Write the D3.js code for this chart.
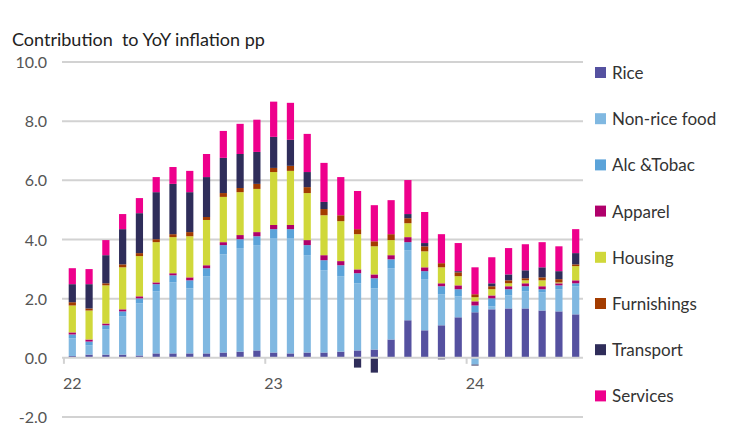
<!DOCTYPE html>
<html><head><meta charset="utf-8">
<script src="https://cdn.jsdelivr.net/npm/d3@7"></script>
<style>body{margin:0;background:#fff}text{font-family:Lato,"Noto Sans",sans-serif}</style>
</head><body><svg id="c" width="750" height="435"></svg>
<script>
const months = d3.range(31).map(i => { const y = 22 + Math.floor(i/12); return y + "-" + String(i%12+1).padStart(2,"0"); });
const seriesNames = ["Rice","Non-rice food","Alc &Tobac","Apparel","Housing","Furnishings","Transport","Services"];
const colors = ["#5551a0","#80b8e1","#5ba3d9","#b0006b","#d0d83a","#a33c00","#2f2d5a","#ee008c"];
const rice =        [.06,.11,.11,.11,.08,.15,.15,.15,.15,.18,.21,.25,.18,.15,.18,.18,.21,.25,.28,.62,1.27,.93,1.10,1.37,1.54,1.64,1.67,1.67,1.60,1.57,1.47];
const nonRice =     [.60,.31,.85,1.29,1.76,2.10,2.40,2.20,2.61,3.32,3.50,3.56,3.87,3.90,3.29,2.78,2.55,2.27,2.07,2.41,2.37,1.73,1.05,.71,-.23,.10,.44,.58,.61,.75,.95];
const alcTobac =    [.13,.13,.14,.17,.17,.24,.24,.27,.27,.31,.30,.30,.30,.30,.34,.34,.37,.34,.34,.30,.27,.27,.27,.24,.23,.27,.21,.17,.11,.13,.10];
const apparel =     [.07,.07,.06,.07,.07,.06,.07,.10,.10,.10,.14,.14,.14,.14,.17,.17,.14,.13,.13,.14,.17,.13,.10,.13,.14,.10,.10,.10,.10,.07,.10];
const housing =     [.91,.98,1.29,1.42,1.36,1.36,1.22,1.39,1.53,1.53,1.45,1.46,1.79,1.83,1.59,1.35,1.35,1.19,.95,.51,.47,.54,.54,.31,.14,.21,.10,.10,.20,.03,.48];
const furnishings = [.11,.07,.07,.10,.10,.10,.10,.14,.10,.13,.14,.17,.14,.17,.20,.21,.20,.17,.17,.20,.17,.17,.14,.13,.10,.10,.10,.07,.10,.11,.06];
const transport =   [.61,.82,.95,1.19,1.35,1.59,1.70,1.35,1.35,1.19,1.15,1.08,1.05,.88,.51,.24,0,-.33,-.5,0,.14,.11,-.05,.04,-.03,.10,.20,.27,.34,.27,.38];
const services =    [.54,.51,.51,.51,.51,.51,.57,.72,.78,.91,1.02,1.09,1.19,1.25,1.29,1.32,1.29,1.29,1.22,1.15,1.15,1.05,.98,.95,.91,.88,.89,.88,.85,.84,.81];
const yTicks = [-2,0,2,4,6,8,10];
const yearLabels = ["22","23","24"];

const all = [rice,nonRice,alcTobac,apparel,housing,furnishings,transport,services];
const table = months.map((m,i) => { const o = {m}; seriesNames.forEach((s,k)=>o[s]=all[k][i]); return o; });
const stack = d3.stack().keys(seriesNames).offset(d3.stackOffsetDiverging)(table);

const svg = d3.select("#c");
const x = d3.scaleBand().domain(months).range([64,584]).paddingInner(0.57).paddingOuter(0.28);
const y = d3.scaleLinear().domain([-2,10]).range([417,62]);

svg.append("text").attr("x",12).attr("y",46).attr("font-size",18).attr("fill","#222")
  .style("white-space","pre").text("Contribution  to YoY inflation pp");

svg.append("g").selectAll("line").data(yTicks.filter(t=>t!==0)).join("line")
  .attr("x1",62).attr("x2",583).attr("y1",d=>y(d)).attr("y2",d=>y(d))
  .attr("stroke","#d2d2d2").attr("stroke-width",2);
svg.append("g").selectAll("text").data(yTicks).join("text")
  .attr("x",47).attr("y",d=>y(d)+6).attr("text-anchor","end").attr("font-size",16).attr("fill","#555")
  .text(d=>d.toFixed(1));

svg.append("g").selectAll("g").data(stack).join("g").attr("fill",(d,i)=>colors[i])
  .selectAll("rect").data(d=>d).join("rect")
  .attr("x",d=>x(d.data.m)).attr("width",x.bandwidth())
  .attr("y",d=>y(Math.max(d[0],d[1]))).attr("height",d=>Math.abs(y(d[0])-y(d[1])));

svg.append("line").attr("x1",62).attr("x2",583).attr("y1",y(0)).attr("y2",y(0)).attr("stroke","#d2d2d2").attr("stroke-width",2);
const step = x.step();
yearLabels.forEach((l,i)=>{
  const xx = x(months[i*12]) - step*0.5 + x.bandwidth()*0.5;
  svg.append("line").attr("x1",xx).attr("x2",xx).attr("y1",y(0)).attr("y2",y(0)+6).attr("stroke","#d2d2d2").attr("stroke-width",2);
  svg.append("text").attr("x",xx-1).attr("y",389).attr("font-size",16).attr("fill","#555").text(l);
});

const lg = svg.append("g").selectAll("g").data(seriesNames).join("g")
  .attr("transform",(d,i)=>`translate(595,${73+i*46.2})`);
lg.append("rect").attr("x",0).attr("y",-6).attr("width",11).attr("height",11).attr("fill",(d,i)=>colors[i]);
lg.append("text").attr("x",17).attr("y",6).attr("font-size",17).attr("fill","#333").text(d=>d);
</script></body></html>
